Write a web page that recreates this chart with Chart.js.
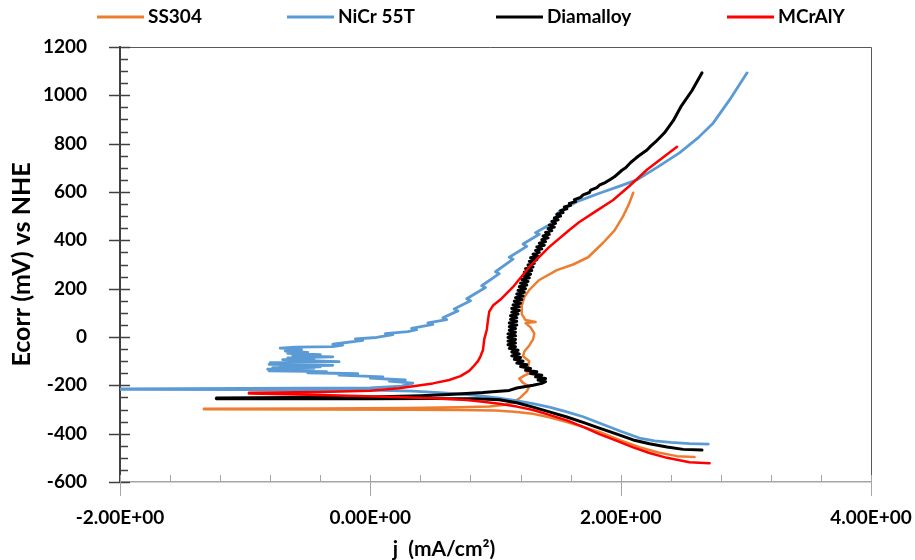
<!DOCTYPE html>
<html>
<head>
<meta charset="UTF-8">
<title>Polarisation curves</title>
<script src="https://cdn.jsdelivr.net/npm/chart.js"></script>
<style>
  html, body { margin: 0; padding: 0; background: #fff; }
</style>
</head>
<body>
<canvas id="chart" width="915" height="560"></canvas>
<script>
const seriesNames = ['SS304', 'NiCr 55T', 'Diamalloy', 'MCrAlY'];
const seriesColors = ['#ed7d31', '#5b9bd5', '#000000', '#ff0000'];

const xTicks = [-2, 0, 2, 4];
const yTicks = [-600, -400, -200, 0, 200, 400, 600, 800, 1000, 1200];

// each scan runs from the cathodic end, through Ecorr, up the anodic branch
// j in mA/cm2, E in mV vs NHE
const ss304J = [2.59, 2.45, 2.30, 2.15, 2.00, 1.83, 1.70, 1.57, 1.43, 1.30, 1.15, 1.00, 0.70, 0.30, -0.40, -1.33,
  -1.33, -0.40, 0.30, 0.70, 0.95, 1.08, 1.15, 1.20, 1.25, 1.27, 1.22, 1.19, 1.23, 1.27, 1.24, 1.26, 1.27, 1.22, 1.23,
  1.27, 1.30, 1.31, 1.28, 1.24, 1.32, 1.24, 1.21, 1.21, 1.23, 1.27, 1.35, 1.49, 1.62, 1.74, 1.86, 1.95, 2.02, 2.07, 2.10];
const ss304E = [-497, -493, -478, -456, -428, -393, -372, -352, -332, -318, -309, -304, -302, -301, -300, -299,
  -297, -296, -294, -291, -288, -280, -268, -250, -225, -205, -190, -172, -160, -150, -140, -120, -100, -80, -60,
  -35, -10, 15, 40, 58, 62, 70, 95, 130, 165, 195, 236, 277, 300, 330, 390, 440, 500, 555, 597];

const nicrJ = [2.70, 2.55, 2.40, 2.27, 2.15, 2.00, 1.85, 1.70, 1.57, 1.43, 1.30, 1.15, 1.03, 0.90, 0.77, 0.55, 0.34, 0.00, -1.00, -2.00,
  -2.00, 0.00, 0.25, 0.34, 0.15, 0.28, 0.00, 0.10, -0.25, -0.10, -0.50, -0.35, -0.81, -0.60, -0.82, -0.45, -0.78, -0.40,
  -0.72, -0.30, -0.81, -0.55, -0.80, -0.25, -0.50, -0.70, -0.45, -0.66, -0.30, -0.62, -0.40, -0.66, -0.50, -0.68, -0.55,
  -0.72, -0.60, -0.30, -0.22, -0.30, -0.06, -0.12, 0.05, 0.18, 0.12, 0.30, 0.37, 0.33, 0.50, 0.46, 0.61, 0.58, 0.70, 0.67,
  0.80, 0.77, 0.92, 0.89, 1.03, 1.00, 1.14, 1.11, 1.25, 1.22, 1.35, 1.32, 1.45, 1.51, 1.65, 1.83, 1.97, 2.13, 2.30, 2.47,
  2.62, 2.74, 2.87, 3.01];
const nicrE = [-443, -441, -436, -430, -418, -390, -360, -330, -310, -290, -276, -262, -253, -245, -238, -230, -224, -220, -218, -217,
  -215, -211, -203, -191, -182, -178, -170, -165, -158, -152, -148, -143, -140, -137, -133, -130, -127, -124,
  -120, -117, -113, -110, -106, -102, -98, -94, -90, -86, -82, -77, -73, -68, -64, -58, -52,
  -46, -42, -40, -34, -30, -14, -8, -2, 10, 14, 22, 30, 36, 52, 58, 72, 80, 108, 116,
  150, 158, 205, 212, 262, 270, 322, 330, 375, 385, 425, 432, 470, 520, 560, 595, 620, 650, 705, 762,
  825, 886, 981, 1093];

const diamJ = [2.65, 2.50, 2.37, 2.23, 2.10, 1.97, 1.83, 1.70, 1.57, 1.43, 1.30, 1.17, 1.03, 0.85, 0.50, 0.00, -1.23,
  -1.23, 0.00, 0.40, 0.63, 0.90, 1.11, 1.17, 1.30, 1.37, 1.40, 1.34, 1.40, 1.32, 1.37, 1.28, 1.33, 1.24, 1.28, 1.20,
  1.25, 1.17, 1.22, 1.15, 1.20, 1.13, 1.19, 1.13, 1.18, 1.11, 1.16, 1.10, 1.16, 1.10, 1.16, 1.10, 1.16, 1.10, 1.16,
  1.11, 1.16, 1.11, 1.17, 1.11, 1.17, 1.12, 1.17, 1.12, 1.18, 1.13, 1.19, 1.13, 1.19, 1.14, 1.20, 1.15, 1.21, 1.16,
  1.22, 1.17, 1.23, 1.18, 1.24, 1.19, 1.25, 1.20, 1.26, 1.21, 1.27, 1.22, 1.28, 1.23, 1.29, 1.24, 1.30, 1.26, 1.31,
  1.27, 1.33, 1.28, 1.34, 1.30, 1.35, 1.32, 1.37, 1.33, 1.39, 1.35, 1.40, 1.37, 1.42, 1.38, 1.43, 1.40, 1.45, 1.42,
  1.47, 1.43, 1.48, 1.45, 1.50, 1.47, 1.52, 1.49, 1.54, 1.52, 1.57, 1.55, 1.60, 1.59, 1.64, 1.63, 1.68, 1.70, 1.75,
  1.76, 1.81, 1.83, 1.88, 1.91, 1.95, 2.01, 2.04, 2.08, 2.11, 2.14, 2.21, 2.24, 2.28, 2.35, 2.42, 2.48, 2.57, 2.65];
const diamE = [-468, -465, -455, -442, -426, -402, -377, -353, -331, -310, -290, -272, -260, -256, -255, -255, -256,
  -252, -248, -243, -238, -230, -221, -211, -200, -192, -185, -178, -172, -165, -158, -151, -144, -137, -130, -122,
  -115, -108, -100, -92, -85, -78, -70, -62, -55, -47, -40, -32, -25, -17, -10, -2, 5, 13, 20,
  28, 35, 43, 50, 58, 65, 73, 80, 88, 95, 103, 110, 118, 125, 133, 140, 148, 155, 163,
  170, 178, 185, 193, 200, 208, 215, 223, 230, 238, 245, 253, 260, 268, 275, 283, 290, 298, 305,
  313, 320, 328, 335, 343, 350, 358, 365, 373, 380, 388, 395, 403, 410, 418, 425, 433, 440, 448,
  455, 463, 470, 478, 485, 493, 500, 508, 515, 523, 530, 538, 545, 553, 560, 568, 578, 588, 598,
  608, 618, 628, 640, 650, 663, 690, 700, 722, 735, 748, 774, 790, 808, 845, 895, 952, 1020, 1093];

const mcralyJ = [2.71, 2.55, 2.37, 2.23, 2.10, 1.97, 1.83, 1.70, 1.57, 1.43, 1.30, 1.17, 1.03, 0.90, 0.77, 0.50, 0.20, -0.40, -0.97,
  -0.97, -0.40, 0.00, 0.23, 0.40, 0.50, 0.63, 0.72, 0.79, 0.82, 0.86, 0.88, 0.90, 0.91, 0.93, 0.94, 0.95, 0.98, 1.04,
  1.14, 1.27, 1.43, 1.59, 1.67, 1.80, 1.94, 2.07, 2.21, 2.33, 2.45];
const mcralyE = [-522, -518, -500, -480, -457, -430, -402, -372, -345, -322, -302, -288, -276, -268, -261, -253, -248, -240, -234,
  -231, -228, -222, -212, -200, -192, -178, -162, -140, -124, -100, -80, -54, -10, 29, 70, 105, 130, 155,
  207, 290, 373, 443, 476, 520, 567, 625, 692, 740, 787];

const seriesJ = [ss304J, nicrJ, diamJ, mcralyJ];
const seriesE = [ss304E, nicrE, diamE, mcralyE];
const seriesWidth = [2.5, 2.8, 3, 2.5];

const FONT = '"Lato", "Open Sans", sans-serif';

const datasets = seriesNames.map((name, i) => ({
  label: name,
  data: seriesJ[i].map((j, k) => ({ x: j, y: seriesE[i][k] })),
  borderColor: seriesColors[i],
  backgroundColor: seriesColors[i],
  borderWidth: seriesWidth[i],
  borderJoinStyle: 'round',
  borderCapStyle: 'round',
  pointRadius: 0,
  showLine: true,
  tension: 0,
  order: seriesNames.length - i
}));

// Excel-style decoration: crossing major ticks, inner minor ticks, legend and axis titles
const decor = {
  id: 'decor',
  afterDraw(chart) {
    const { ctx, chartArea: a, scales: { x, y } } = chart;
    ctx.save();

    ctx.strokeStyle = '#595959';
    ctx.lineWidth = 1;
    ctx.beginPath();
    ctx.moveTo(a.left - 10, a.top + 0.5);
    ctx.lineTo(a.right + 0.5, a.top + 0.5);
    ctx.lineTo(a.right + 0.5, a.bottom);
    ctx.stroke();

    ctx.strokeStyle = '#404040';
    ctx.lineWidth = 1.5;
    for (let v = yTicks[0]; v <= yTicks[yTicks.length - 1]; v += 50) {
      const py = Math.round(y.getPixelForValue(v)) + 0.5;
      ctx.beginPath();
      if (yTicks.includes(v)) { ctx.moveTo(a.left - 11, py); ctx.lineTo(a.left + 10, py); }
      else { ctx.moveTo(a.left, py); ctx.lineTo(a.left + 8, py); }
      ctx.stroke();
    }

    ctx.strokeStyle = '#a6a6a6';
    ctx.lineWidth = 1;
    for (let k = 0; k <= 15; k++) {
      const v = xTicks[0] + k * 0.4;
      const px = Math.round(x.getPixelForValue(v)) + 0.5;
      ctx.beginPath();
      if (k % 5 === 0) { ctx.moveTo(px, a.bottom - 7); ctx.lineTo(px, a.bottom + 14); }
      else { ctx.moveTo(px, a.bottom - 7); ctx.lineTo(px, a.bottom); }
      ctx.stroke();
    }

    // legend
    const legendX = [97, 287, 496, 727];
    ctx.font = 'bold 19px ' + FONT;
    ctx.textBaseline = 'middle';
    ctx.textAlign = 'left';
    chart.data.datasets.forEach((ds, i) => {
      ctx.strokeStyle = ds.borderColor;
      ctx.lineWidth = 3;
      ctx.beginPath();
      ctx.moveTo(legendX[i], 17);
      ctx.lineTo(legendX[i] + 47, 17);
      ctx.stroke();
      ctx.fillStyle = '#000';
      ctx.fillText(ds.label, legendX[i] + 51, 17);
    });

    // axis titles
    ctx.textAlign = 'center';
    ctx.font = 'bold 21px ' + FONT;
    ctx.fillText('j  (mA/cm²)', 444, 549);
    ctx.font = 'bold 25px ' + FONT;
    ctx.translate(22, (a.top + a.bottom) / 2);
    ctx.rotate(-Math.PI / 2);
    ctx.fillText('Ecorr (mV) vs NHE', 0, 0);
    ctx.restore();
  }
};

new Chart(document.getElementById('chart'), {
  type: 'scatter',
  data: { datasets },
  plugins: [decor],
  options: {
    responsive: false,
    animation: false,
    devicePixelRatio: 1,
    layout: { padding: { top: 47, right: 44, left: 0, bottom: 0 } },
    plugins: { legend: { display: false }, tooltip: { enabled: false } },
    scales: {
      x: {
        type: 'linear',
        min: xTicks[0],
        max: xTicks[xTicks.length - 1],
        afterBuildTicks: s => { s.ticks = xTicks.map(v => ({ value: v })); },
        afterFit: s => { s.height = 78; s.paddingLeft = 0; s.paddingRight = 0; },
        grid: { display: false, drawTicks: false },
        border: { display: true, color: '#a6a6a6', width: 1.5 },
        ticks: {
          padding: 24,
          color: '#000',
          font: { family: FONT, size: 19, weight: 'bold' },
          callback: v => v.toFixed(2) + 'E+00'
        }
      },
      y: {
        type: 'linear',
        min: yTicks[0],
        max: yTicks[yTicks.length - 1],
        afterBuildTicks: s => { s.ticks = yTicks.map(v => ({ value: v })); },
        afterFit: s => { s.width = 120; },
        grid: { display: false, drawTicks: false },
        border: { display: true, color: '#404040', width: 2 },
        ticks: {
          padding: 33,
          color: '#000',
          font: { family: FONT, size: 19, weight: 'bold' },
          callback: v => String(v)
        }
      }
    }
  }
});
</script>
</body>
</html>
